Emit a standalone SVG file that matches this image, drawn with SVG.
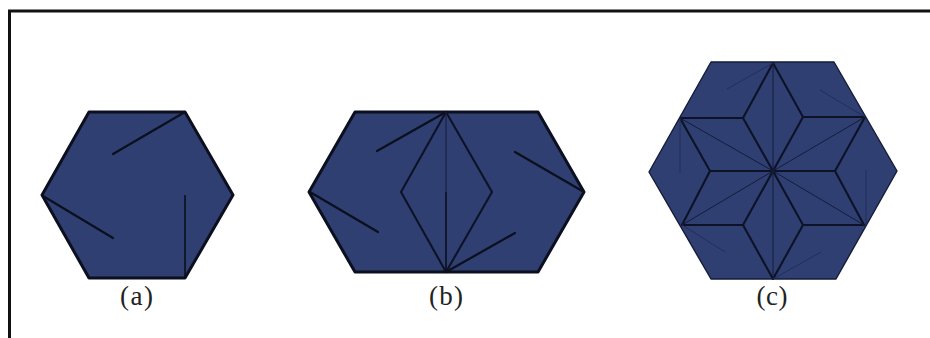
<svg xmlns="http://www.w3.org/2000/svg" width="930" height="338" viewBox="0 0 930 338">
<style>
.hex{fill:#2f3f72;stroke:#0b0f1e;stroke-width:3;stroke-linejoin:round}
.hexc{fill:#2f3f72;stroke:#141c36;stroke-width:1.4;stroke-linejoin:round}
.l{stroke:#0b0f1e;stroke-width:2.2;fill:none;stroke-linecap:round}
.v{stroke:#0b0f1e;stroke-width:1.6;fill:none}
.m{stroke:#0d1226;stroke-width:2.1;fill:none;stroke-linejoin:round}
.t{stroke:#141c3c;stroke-width:1;fill:none}
.f{stroke:#222e5c;stroke-width:1;fill:none}
text{font-family:"Liberation Serif","Times New Roman",serif;font-size:27px;fill:#222;text-anchor:middle}
</style>
<rect width="930" height="338" fill="#fff"/>
<path d="M9.5 338V11H930" fill="none" stroke="#111" stroke-width="3"/>
<g id="hexagon-a">
<polygon class="hex" points="89,112 185,112 233,195 185,278 89,278 42,195"/>
<text x="136.500" y="305" textLength="33" lengthAdjust="spacing">(a)</text>
</g>
<g id="hexagon-b">
<polygon class="hex" points="355,112 538,112 584,192 538,272 355,272 309,192"/>
<polygon class="m" points="446,112 492,192 446,272 401,192"/>
<text x="446" y="305" textLength="34" lengthAdjust="spacing">(b)</text>
</g>
<g id="hexagon-c">
<polygon class="hexc" points="711,62 834,62 897,171 836,279 711,279 649,172"/>
<text x="772" y="305" textLength="31" lengthAdjust="spacing">(c)</text>
</g>
<g id="connectors">
<path class="l" d="M185 112L113 154M43 196L113 238"/>
<path class="v" d="M185 195V278"/>
<path class="l" d="M446 112L377 151M310 192L378 232M515 152L584 192M446 272L515 233"/>
<path class="t" d="M446 112V192"/><path class="v" d="M446 192V272"/>
<path class="m" d="M773 63L743 118L773 171L803 117ZM680 118H743M803 117H865M680 118L710 171L773 171L835 171L865 117M710 171L682 225H743L773 279L803 225H864L835 171M743 225L773 171L803 225"/>
<path class="t" d="M680 118L773 171L865 117M682 225L773 171L864 225M773 63V279"/>
<path class="f" d="M773 63L727 89M865 117L820 90M680 118V173M866 225V170M682 225L725 252M773 279L821 252"/>
</g>
</svg>
